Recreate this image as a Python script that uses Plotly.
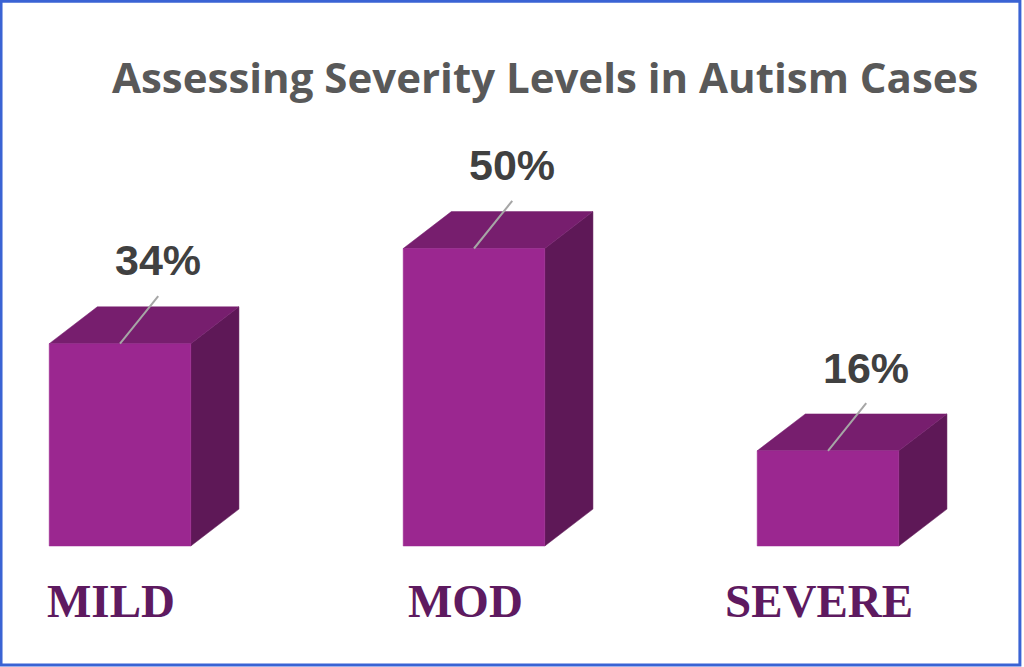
import plotly.graph_objects as go

# data
categories = ["MILD", "MOD", "SEVERE"]
values = [34, 50, 16]
value_labels = ["34%", "50%", "16%"]
title_text = "Assessing Severity Levels in Autism Cases"

# colours
FRONT = "#9B2790"
TOP = "#771E6E"
SIDE = "#5E1857"
LABEL_PURPLE = "#5E1A60"

# geometry (data units: 1 x unit = one category slot, y in percent)
half_w = 0.2
depth_x = 0.136
depth_y = 6.2

fig = go.Figure()


def poly(xs, ys, color):
    fig.add_trace(go.Scatter(
        x=xs + [xs[0]], y=ys + [ys[0]], mode="lines", fill="toself",
        fillcolor=color, line=dict(color=color, width=0.5),
        hoverinfo="skip", showlegend=False,
    ))


for i, v in enumerate(values):
    x0, x1 = i - half_w, i + half_w
    # side face
    poly([x1, x1 + depth_x, x1 + depth_x, x1], [0, depth_y, v + depth_y, v], SIDE)
    # top face
    poly([x0, x1, x1 + depth_x, x0 + depth_x], [v, v, v + depth_y, v + depth_y], TOP)
    # front face
    poly([x0, x1, x1, x0], [0, 0, v, v], FRONT)
    # leader line
    fig.add_trace(go.Scatter(
        x=[i, i + 0.108], y=[v, v + 8], mode="lines",
        line=dict(color="#A6A6A6", width=2), hoverinfo="skip", showlegend=False,
    ))
    fig.add_annotation(
        x=i + 0.107, y=v + 14, text="<b>" + value_labels[i] + "</b>", showarrow=False,
        font=dict(family="Liberation Sans, Arial", size=43, color="#404040"),
        xanchor="center", yanchor="middle",
    )
    fig.add_annotation(
        x=i - 0.025, y=-9.2, text="<b>" + categories[i] + "</b>", showarrow=False,
        font=dict(family="Liberation Serif, Times New Roman", size=47, color=LABEL_PURPLE),
        xanchor="center", yanchor="middle",
    )

fig.add_annotation(
    x=0.532, y=0.885, xref="paper", yref="paper", text="<b>" + title_text + "</b>",
    showarrow=False, xanchor="center", yanchor="middle",
    font=dict(family="Open Sans", size=42, color="#595959"),
)

# frame
fig.add_shape(
    type="rect", xref="paper", yref="paper", x0=0.001, y0=0.003, x1=0.996, y1=0.998,
    line=dict(color="#3A63D4", width=3),
)

fig.update_layout(
    width=1024, height=667,
    margin=dict(l=0, r=0, t=0, b=0),
    paper_bgcolor="white", plot_bgcolor="white",
    xaxis=dict(range=[-120 / 354, 904 / 354], visible=False, fixedrange=True),
    yaxis=dict(range=[-121 / 5.95, 546 / 5.95], visible=False, fixedrange=True),
)

fig.write_html(
    "out.html",
    config={"displayModeBar": False},
    post_script="document.body.style.margin='0';document.body.style.overflow='hidden';",
)
